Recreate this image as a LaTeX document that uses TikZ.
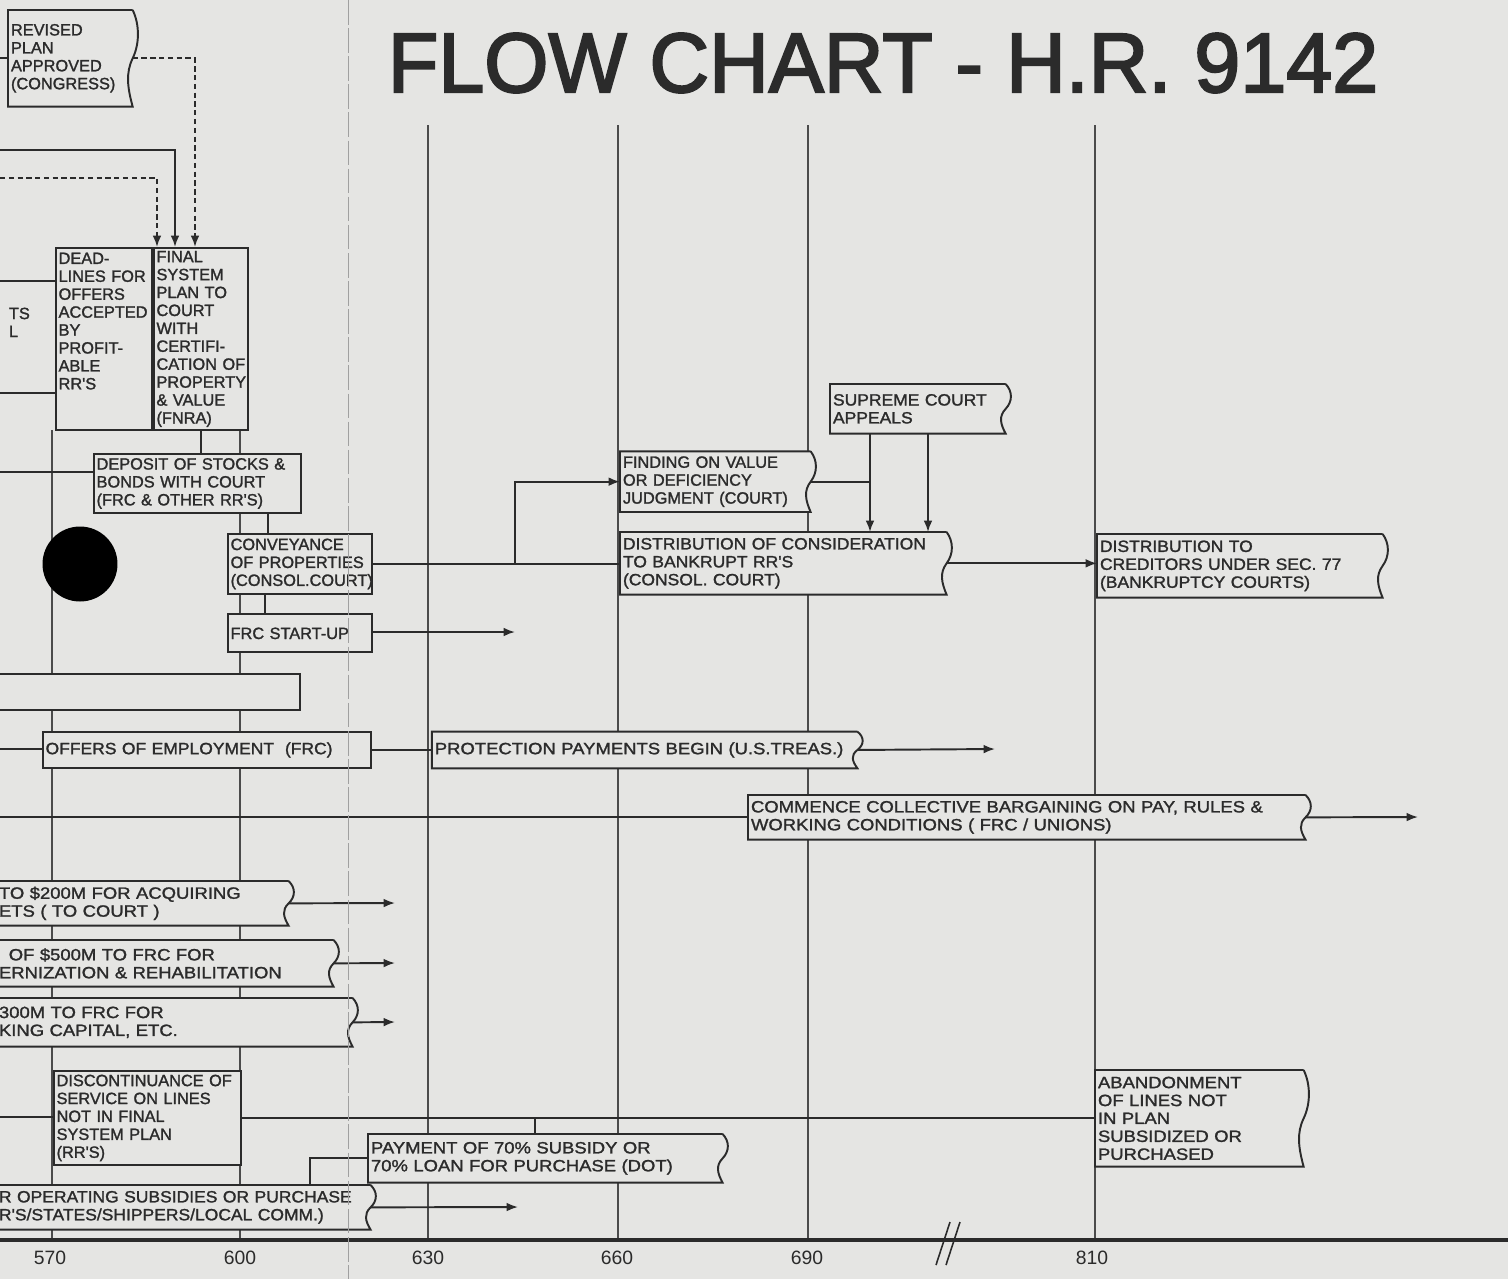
\documentclass[tikz,border=0pt]{standalone}
\usepackage{fontspec}
\setmainfont{Liberation Sans}
\newfontfamily\boxface[FakeBold=1.5]{Liberation Sans}
\newfontfamily\midface[FakeBold=1.5,FakeStretch=1.07]{Liberation Sans}
\newfontfamily\wideface[FakeBold=1.5,FakeStretch=1.13]{Liberation Sans}
\newfontfamily\titleface[FakeBold=2.5]{Liberation Sans}
\usepackage{graphicx}
\usepackage{xcolor}
\usepackage{tikz}
\usetikzlibrary{positioning,arrows.meta,calc}
\definecolor{paper}{HTML}{E5E5E3}
\definecolor{ink}{HTML}{2B2B2B}
\newcommand{\boxfont}{\boxface\fontsize{9.3}{10.2}\selectfont}
\newcommand{\tornbox}[1]{%
  \draw[outline] (#1.north east) -- (#1.north west) -- (#1.south west) -- (#1.south east)
    .. controls ($(#1.south east)!0.2!(#1.north east)+(-3pt,0)$) and ($(#1.south east)!0.35!(#1.north east)+(-4pt,0)$) .. ($(#1.south east)!0.5!(#1.north east)$)
    .. controls ($(#1.south east)!0.65!(#1.north east)+(4pt,0)$) and ($(#1.south east)!0.85!(#1.north east)+(4pt,0)$) .. (#1.north east);}

\begin{document}
\begin{tikzpicture}[
  x=0.02cm, y=-0.02cm,
  box/.style={fill=paper, anchor=north west, inner xsep=1.5pt, inner ysep=1pt,
              align=left, font=\boxfont, text=ink},
  sq/.style={box, draw=ink, line width=1.1pt},
  mid/.style={font=\midface\fontsize{9.3}{10.2}\selectfont},
  wide/.style={font=\wideface\fontsize{9.3}{10.2}\selectfont},
  dims/.code 2 args={\pgfmathsetmacro\bw{#1*0.569-3}\pgfmathsetmacro\bh{#2*0.569}%
                     \tikzset{text width=\bw pt, minimum height=\bh pt}},
  outline/.style={draw=ink, line width=1.1pt},
  line/.style={draw=ink, line width=1.1pt},
  arrow/.style={line, -{Latex[length=6.5pt,width=5pt]}},
  dasharrow/.style={arrow, dash pattern=on 3pt off 2pt},
  grid/.style={draw=ink!85, line width=0.6pt},
  fold/.style={draw=ink!45, line width=0.4pt, dash pattern=on 14pt off 2pt},
  year/.style={font=\fontsize{11}{11}\selectfont, text=ink}
]
\useasboundingbox (0,0) rectangle (1508,1279);
\fill[paper] (0,0) rectangle (1508,1279);
\clip (0,0) rectangle (1508,1279);

\node[text=ink, font=\titleface\fontsize{48}{48}\selectfont] (title) at (883,63)
   {\scalebox{0.98}[1]{FLOW CHART - H.R. 9142}};

\foreach \gx in {428,618,808,1095} \draw[grid] (\gx,125) -- (\gx,1240);
\foreach \gx in {52,240} \draw[grid] (\gx,430) -- (\gx,1240);

\node[box, dims={124}{96}] (revised) at (8,10) {REVISED\\PLAN\\APPROVED\\(CONGRESS)};
\tornbox{revised}
\node[box, dims={40}{40}, fill=none] (frag) at (6,302) {TS\\L};
\node[sq, dims={96}{182}] (deadl) at (55,247)
   {DEAD-\\LINES~FOR\\OFFERS\\ACCEPTED\\BY\\PROFIT-\\ABLE\\RR'S\\~\\~};
\node[sq, dims={94}{182}, right=0pt of deadl] (final)
   {FINAL\\SYSTEM\\PLAN~TO\\COURT\\WITH\\CERTIFI-\\CATION~OF\\PROPERTY\\\&~VALUE\\(FNRA)};
\node[sq, dims={207}{59}] (deposit) at (93,453)
   {DEPOSIT OF STOCKS \&\\BONDS WITH COURT\\(FRC \& OTHER RR'S)};
\node[sq, dims={144}{60}] (conv) at (227,533)
   {CONVEYANCE\\OF~PROPERTIES\\(CONSOL.COURT)};
\node[sq, dims={144}{38}, below=0.37cm of conv] (frc) {FRC START-UP};
\node[sq, dims={303}{36}] (blank) at (-4,673) {};
\node[sq, mid, dims={328}{36}] (offers) at (42,731) {OFFERS OF EMPLOYMENT\ \ (FRC)};
\node[box, wide, dims={425}{36}, right=1.2cm of offers] (prot)
   {PROTECTION PAYMENTS BEGIN (U.S.TREAS.)};
\tornbox{prot}
\node[box, wide, dims={557}{44}] (comm) at (748,795)
   {COMMENCE COLLECTIVE BARGAINING ON PAY, RULES \&\\WORKING CONDITIONS ( FRC / UNIONS)};
\tornbox{comm}
\node[box, wide, dims={292}{44}] (acq) at (-4,881) {TO \$200M FOR ACQUIRING\\ETS ( TO COURT )};
\tornbox{acq}
\node[box, wide, dims={337}{46}] (modern) at (-4,940)
   {\hspace{0.6em}OF \$500M TO FRC FOR\\ERNIZATION \& REHABILITATION};
\tornbox{modern}
\node[box, wide, dims={356}{48}] (wcap) at (-4,998) {300M TO FRC FOR\\KING CAPITAL, ETC.};
\tornbox{wcap}
\node[sq, dims={187}{94}] (disc) at (53,1070)
   {DISCONTINUANCE OF\\SERVICE ON LINES\\NOT IN FINAL\\SYSTEM PLAN\\(RR'S)};
\node[box, wide, dims={208}{96}] (aban) at (1095,1070)
   {ABANDONMENT\\OF LINES NOT\\IN PLAN\\SUBSIDIZED OR\\PURCHASED};
\tornbox{aban}
\node[box, wide, dims={354}{48}] (pay) at (368,1134)
   {PAYMENT OF 70\% SUBSIDY OR\\70\% LOAN FOR PURCHASE (DOT)};
\tornbox{pay}
\node[box, mid, dims={374}{44}] (opsub) at (-4,1185)
   {R OPERATING SUBSIDIES OR PURCHASE\\R'S/STATES/SHIPPERS/LOCAL COMM.)};
\tornbox{opsub}
\node[box, mid, dims={326}{62}] (dcons) at (620,532)
   {DISTRIBUTION OF CONSIDERATION\\TO BANKRUPT RR'S\\(CONSOL. COURT)};
\tornbox{dcons}
\node[box, dims={190}{60}, above right=0.4cm and 0cm of dcons.north west] (find)
   {FINDING ON VALUE\\OR DEFICIENCY\\JUDGMENT (COURT)};
\tornbox{find}
\node[box, mid, dims={175}{49}] (sca) at (830,384) {SUPREME COURT\\APPEALS};
\tornbox{sca}
\node[box, mid, dims={285}{63}] (dcred) at (1097,534)
   {DISTRIBUTION TO\\CREDITORS UNDER SEC. 77\\(BANKRUPTCY COURTS)};
\tornbox{dcred}

\coordinate (rv) at (0,58);
\coordinate (fa) at (195,247);
\coordinate (sa) at (0,150);
\coordinate (fb) at (175,247);
\coordinate (da) at (0,178);
\coordinate (fc) at (157,247);
\draw[line] (rv) -- (rv -| revised.west);
\draw[dasharrow] (revised.east) -| (fa);
\draw[arrow] (sa) -| (fb);
\draw[dasharrow] (da) -| (fc);
\coordinate (l1) at (0,281);
\coordinate (l2) at (0,393);
\draw[line] (l1) -- (l1 -| deadl.west);
\draw[line] (l2) -- (l2 -| deadl.west);
\coordinate (dp) at (0,472);
\draw[line] (dp) -- (dp -| deposit.west);
\draw[line] (final.south) -- (final.south |- deposit.north);
\coordinate (dc) at (268,512);
\draw[line] (dc) -- (dc |- conv.north);
\coordinate (cf) at (265,593);
\draw[line] (cf) -- (cf |- frc.north);
\coordinate (fe) at (515,632);
\draw[arrow] (frc.east |- fe) -- (fe);
\coordinate (cj) at (515,563);
\draw[line] (conv.east) -- (conv.east -| dcons.west);
\draw[arrow] (cj) |- (find.west);
\coordinate (ja) at (870,433);
\coordinate (jb) at (928,433);
\draw[line] (find.east) -- (find.east -| ja);
\draw[arrow] (ja) -- (ja |- dcons.north);
\draw[arrow] (jb) -- (jb |- dcons.north);
\draw[arrow] (dcons.east) -- (dcons.east -| dcred.west);
\coordinate (oin) at (0,749);
\draw[line] (oin) -- (oin -| offers.west);
\draw[line] (offers.east) -- (prot.west);
\coordinate (pend) at (995,749);
\draw[arrow] (prot.east) -- (pend);
\coordinate (cin) at (0,817);
\coordinate (cend) at (1418,817);
\draw[line] (cin) -- (cin -| comm.west);
\draw[arrow] (comm.east) -- (cend);
\coordinate (aend) at (395,903);
\coordinate (mend) at (395,963);
\coordinate (wend) at (395,1022);
\draw[arrow] (acq.east) -- (aend);
\draw[arrow] (modern.east) -- (mend);
\draw[arrow] (wcap.east) -- (wend);
\coordinate (din) at (0,1117);
\draw[line] (din) -- (din -| disc.west);
\draw[line] (disc.east) -- (disc.east -| aban.west);
\coordinate (jd) at (535,1117);
\draw[line] (jd) -- (jd |- pay.north);
\coordinate (jo) at (310,1185);
\draw[line] (jo) |- (pay.west);
\coordinate (oend) at (518,1207);
\draw[arrow] (opsub.east) -- (oend);

\fill[black] (80,564) circle[radius=0.75cm];

\draw[draw=ink, line width=2.8pt] (0,1240) -- (1508,1240);
\draw[draw=ink, line width=0.9pt] (936,1265) -- (950,1222) (946,1265) -- (960,1222);
\foreach \gx/\yr in {50/570,240/600,428/630,617/660,807/690,1092/810}
  \node[year] (yr\yr) at (\gx,1258) {\yr};

\draw[fold] (348,0) -- (348,1279);
\end{tikzpicture}
\end{document}
